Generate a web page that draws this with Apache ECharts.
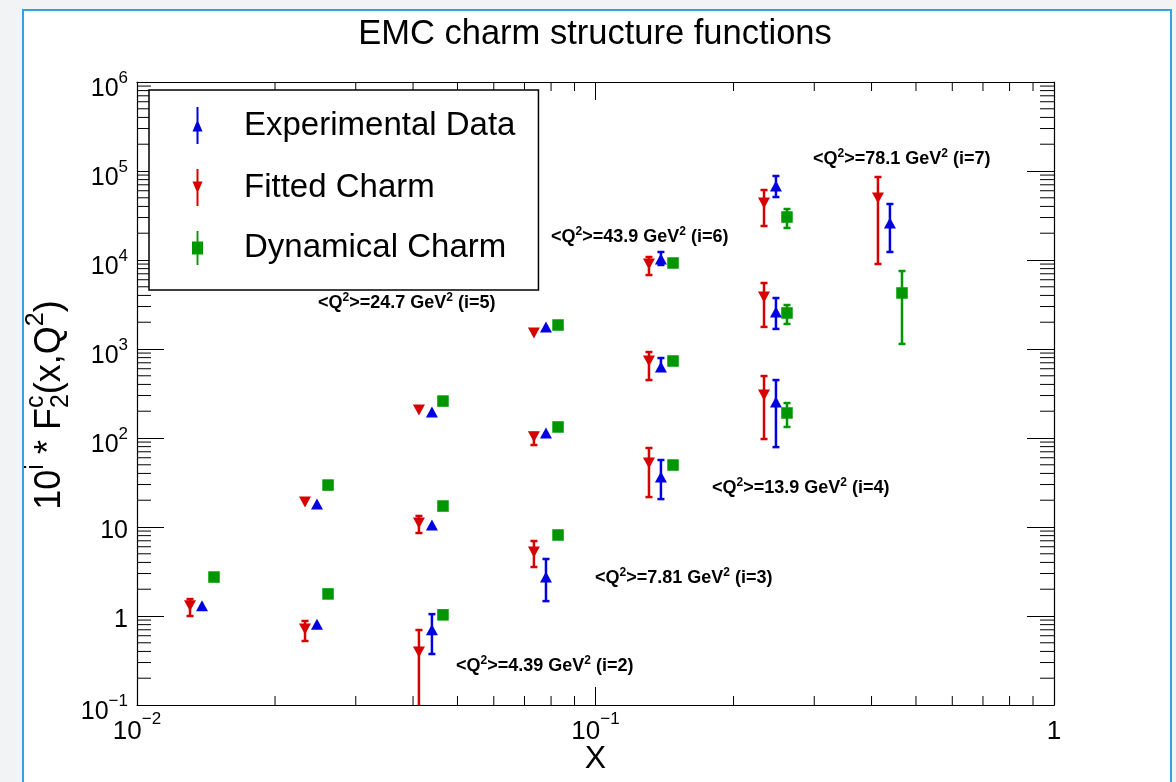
<!DOCTYPE html>
<html><head><meta charset="utf-8">
<script src="https://cdn.jsdelivr.net/npm/echarts@6/dist/echarts.min.js"></script>
<style>
html,body{margin:0;padding:0;background:#f2f3f4;width:1176px;height:782px;overflow:hidden;}
#frame{position:absolute;left:22px;top:9px;width:1146px;height:778px;background:#fff;border-left:2px solid #3aa0da;border-top:2px solid #3aa0da;border-right:2px solid #3aa0da;}
#chart{position:absolute;left:0;top:0;width:1176px;height:782px;}
</style></head><body><div id="frame"></div><div id="chart"></div>
<script>
// ---------------- data ----------------
const seriesNames = ['Experimental Data', 'Fitted Charm', 'Dynamical Charm'];

const xExp = [0.01386, 0.02469, 0.02469, 0.04398, 0.04398, 0.04398, 0.07798, 0.07798, 0.07798, 0.1389, 0.1389, 0.1389, 0.2475, 0.2475, 0.2475, 0.4387];
const yExp = [1.30, 0.81, 18.1, 0.70, 10.5, 196, 2.74, 114, 1770, 36.5, 628, 10260, 254, 2600, 67800, 26000];
const expLo = [null, null, null, 0.374, null, null, 1.47, null, null, 20.6, 581, 8790, 79, 1680, 51000, 12300];
const expHi = [null, null, null, 1.05, null, null, 4.37, null, null, 56.6, 792, 12300, 448, 3740, 87900, 42600];

const xFit = [0.01305, 0.02325, 0.02325, 0.0412, 0.0412, 0.0412, 0.0734, 0.0734, 0.0734, 0.1308, 0.1308, 0.1308, 0.2331, 0.2331, 0.2331, 0.4131];
const yFit = [1.30, 0.714, 19.1, 0.394, 11.1, 206, 5.24, 103, 1513, 52.4, 733, 9020, 304, 3840, 43700, 49700];
const fitLo = [1.0, 0.524, null, 0.03, 8.56, null, 3.55, 83.4, null, 21.7, 448, 6780, 97.4, 1770, 24100, 9020];
const fitHi = [1.55, 0.879, null, 0.696, 13.3, null, 6.96, 114, null, 77.2, 925, 10810, 497, 5515, 61150, 85640];

const xDyn = [0.01472, 0.02610, 0.02610, 0.04649, 0.04649, 0.04649, 0.08285, 0.08285, 0.08285, 0.1476, 0.1476, 0.1476, 0.2616, 0.2616, 0.2616, 0.4661];
const yDyn = [2.74, 1.77, 29.6, 1.03, 17.2, 260, 8.13, 133, 1860, 49.7, 733, 9250, 191, 2540, 30400, 4260];
const dynLo = [null, null, null, null, null, null, null, null, null, null, null, null, 133, 1910, 22900, 1140];
const dynHi = [null, null, null, null, null, null, null, null, null, null, null, null, 247, 3120, 37400, 7520];

const q2Values = ['4.39', '7.81', '13.9', '24.7', '43.9', '78.1'];
const q2Index = [2, 3, 4, 5, 6, 7];

const xTickExp = [-2, -1, 0];
const yTickExp = [-1, 0, 1, 2, 3, 4, 5, 6];
const minorMult = [2, 3, 4, 5, 6, 7, 8, 9];

// ---------------- helpers ----------------
const FONT = 'Liberation Sans';
const C_EXP = '#0000e0', C_FIT = '#d60000', C_DYN = '#009600';

function pts(xs, ys) { return xs.map((x, i) => [x, ys[i]]); }
function errs(xs, lo, hi) {
  const out = [];
  xs.forEach((x, i) => { if (lo[i] != null && hi[i] != null) out.push([x, lo[i], hi[i]]); });
  return out;
}
function errRender(color) {
  return function (params, api) {
    const x = api.value(0);
    const a = api.coord([x, api.value(1)]);
    const b = api.coord([x, api.value(2)]);
    const h = 3.5, st = { stroke: color, lineWidth: 2.5 };
    return { type: 'group', children: [
      { type: 'line', shape: { x1: a[0], y1: a[1], x2: b[0], y2: b[1] }, style: st },
      { type: 'line', shape: { x1: a[0] - h, y1: a[1], x2: a[0] + h, y2: a[1] }, style: st },
      { type: 'line', shape: { x1: b[0] - h, y1: b[1], x2: b[0] + h, y2: b[1] }, style: st }
    ] };
  };
}
const xMinor = [], yMinor = [];
xTickExp.slice(0, -1).forEach(k => minorMult.forEach(m => xMinor.push(m * Math.pow(10, k))));
yTickExp.slice(0, -1).forEach(k => minorMult.forEach(m => yMinor.push(m * Math.pow(10, k))));

function supExp(k) { return k < 0 ? '\u2212' + (-k) : String(k); }
function yFmt(v) {
  const k = Math.round(Math.log10(v));
  if (k === 0) return '{p|1}';
  if (k === 1) return '{p|10}';
  return '{b|10}{s|' + supExp(k) + '}';
}
function xFmt(v) {
  const k = Math.round(Math.log10(v));
  if (k === 0) return '{b|1}';
  return '{b|10}{s|' + supExp(k) + '}';
}
const yRich = {
  p: { fontFamily: FONT, fontSize: 25, color: '#000', lineHeight: 24, padding: [9, 0, 0, 0] },
  b: { fontFamily: FONT, fontSize: 25, color: '#000', lineHeight: 24, padding: [15, 0, 0, 0] },
  s: { fontFamily: FONT, fontSize: 17, color: '#000', lineHeight: 17, padding: [0, 0, 7, 0] }
};
const xRich = {
  b: { fontFamily: FONT, fontSize: 26, color: '#000', lineHeight: 24, padding: [14, 0, 0, 0] },
  s: { fontFamily: FONT, fontSize: 17, color: '#000', lineHeight: 17, padding: [0, 0, 12, 0] }
};

// y-axis title built from pieces (stacked sub/superscript on F)
const ctx = document.createElement('canvas').getContext('2d');
function tw(t, s) { ctx.font = s + 'px "' + FONT + '"'; return ctx.measureText(t).width; }
const M = 36, S = 25;
const titleParts = [
  { t: '10', s: M, dy: 0 }, { t: 'i', s: S, dy: -14 }, { t: ' * F', s: M, dy: 0 },
  { t: 'c', s: S, dy: -14, stack: 1 }, { t: '2', s: S, dy: 11, stack: 2 },
  { t: '(x,Q', s: M, dy: 0 }, { t: '2', s: S, dy: -14 }, { t: ')', s: M, dy: 0 }
];
let cur = 0; const yTitleChildren = []; let stackX = 0, stackW = 0;
titleParts.forEach(p => {
  let x;
  if (p.stack === 1) { stackX = cur; x = cur; stackW = tw(p.t, p.s); }
  else if (p.stack === 2) { x = stackX; stackW = Math.max(stackW, tw(p.t, p.s)); cur = stackX + stackW; }
  else { x = cur; cur += tw(p.t, p.s); }
  yTitleChildren.push({ type: 'text', x: x, y: p.dy, style: { text: p.t, fontFamily: FONT, fontSize: p.s, fill: '#000', align: 'left', verticalAlign: 'middle' } });
});
yTitleChildren.forEach(c => { c.x -= cur / 2; });

// annotation positions (layout, pixels)
const annPos = [[456, 665], [595, 577], [712, 487], [318, 302], [551, 236], [813, 158]];
const annGraphics = q2Values.map((q, j) => ({
  type: 'text', x: annPos[j][0], y: annPos[j][1],
  style: {
    text: '{b|<Q}{s|2}{b|>=' + q + ' GeV}{s|2}{b| (i=' + q2Index[j] + ')}',
    align: 'left', verticalAlign: 'middle',
    rich: {
      b: { fontFamily: FONT, fontSize: 18, fontWeight: 'bold', fill: '#000', lineHeight: 20, verticalAlign: 'bottom' },
      s: { fontFamily: FONT, fontSize: 12, fontWeight: 'bold', fill: '#000', lineHeight: 12, padding: [0, 0, 8, 0], verticalAlign: 'top' }
    }
  }
}));

const axisLineStyle = { color: '#000', width: 1.2 };

const option = {
  animation: false,
  textStyle: { fontFamily: FONT },
  title: {
    text: 'EMC charm structure functions', left: 595, top: 17, textAlign: 'center', padding: 0,
    textStyle: { fontFamily: FONT, fontSize: 34.5, fontWeight: 'normal', color: '#000' }
  },
  grid: { left: 137, right: 122, top: 82, bottom: 77, containLabel: false, outerBoundsMode: 'none' },
  legend: {
    orient: 'vertical', left: 149, top: 90, backgroundColor: '#fff', borderColor: '#000', borderWidth: 1.5,
    padding: [17, 23, 25, 43], itemGap: 25, itemWidth: 11, itemHeight: 37, selectedMode: false,
    textStyle: { fontFamily: FONT, fontSize: 33, color: '#000', padding: [0, 0, 0, 36] },
    data: [
      { name: seriesNames[0], icon: 'path://M4,0 L6,0 L6,37 L4,37 Z M0,24.5 L5,12.5 L10,24.5 Z' },
      { name: seriesNames[1], icon: 'path://M4,0 L6,0 L6,37 L4,37 Z M0,12.5 L10,12.5 L5,24.5 Z' },
      { name: seriesNames[2], icon: 'path://M4,0 L6,0 L6,37 L4,37 Z M-1,11.5 L11,11.5 L11,25.5 L-1,25.5 Z' }
    ]
  },
  xAxis: [
    { type: 'log', logBase: 10, min: 0.01, max: 1, interval: 1, position: 'bottom',
      axisLine: { show: true, lineStyle: axisLineStyle },
      axisTick: { show: true, inside: true, length: 18, lineStyle: { color: '#000', width: 1 } },
      minorTick: { show: false }, splitLine: { show: false },
      axisLabel: { margin: 8, formatter: xFmt, rich: xRich },
      name: 'X', nameLocation: 'middle', nameGap: 38, nameMoveOverlap: false,
      nameTextStyle: { fontFamily: FONT, fontSize: 32, color: '#000', verticalAlign: 'top' } },
    { type: 'log', logBase: 10, min: 0.01, max: 1, interval: 1, position: 'top',
      axisLine: { show: true, lineStyle: axisLineStyle },
      axisTick: { show: true, inside: true, length: 18, lineStyle: { color: '#000', width: 1 } },
      axisLabel: { show: false }, splitLine: { show: false } }
  ],
  yAxis: [
    { type: 'log', logBase: 10, min: 0.1, max: 1e6, interval: 1, position: 'left',
      axisLine: { show: true, lineStyle: axisLineStyle },
      axisTick: { show: true, inside: true, length: 27, lineStyle: { color: '#000', width: 1 } },
      minorTick: { show: false }, splitLine: { show: false },
      axisLabel: { margin: 9, formatter: yFmt, rich: yRich } },
    { type: 'log', logBase: 10, min: 0.1, max: 1e6, interval: 1, position: 'right',
      axisLine: { show: true, lineStyle: axisLineStyle },
      axisTick: { show: true, inside: true, length: 27, lineStyle: { color: '#000', width: 1 } },
      axisLabel: { show: false }, splitLine: { show: false } }
  ],
  graphic: [
    { type: 'group', x: 50, y: 405, rotation: Math.PI / 2, children: yTitleChildren }
  ].concat(annGraphics),
  series: [
    { type: 'custom', name: 'xminor', silent: true, clip: false, z: 1,
      data: xMinor.map(v => [v, 1]),
      renderItem: function (params, api) {
        const cs = params.coordSys; const px = api.coord([api.value(0), 1])[0];
        const b = cs.y + cs.height, t = cs.y;
        return { type: 'group', children: [
          { type: 'line', shape: { x1: px, y1: b, x2: px, y2: b - 9 }, style: { stroke: '#000', lineWidth: 1 } },
          { type: 'line', shape: { x1: px, y1: t, x2: px, y2: t + 9 }, style: { stroke: '#000', lineWidth: 1 } }
        ] };
      } },
    { type: 'custom', name: 'yminor', silent: true, clip: false, z: 1,
      data: yMinor.map(v => [0.1, v]),
      renderItem: function (params, api) {
        const cs = params.coordSys; const py = api.coord([0.1, api.value(1)])[1];
        const l = cs.x, r = cs.x + cs.width;
        return { type: 'group', children: [
          { type: 'line', shape: { x1: l, y1: py, x2: l + 14, y2: py }, style: { stroke: '#000', lineWidth: 1 } },
          { type: 'line', shape: { x1: r, y1: py, x2: r - 14, y2: py }, style: { stroke: '#000', lineWidth: 1 } }
        ] };
      } },
    { type: 'custom', name: seriesNames[1], clip: true, z: 2, silent: true,
      encode: { x: 0, y: [1, 2] }, data: errs(xFit, fitLo, fitHi), renderItem: errRender(C_FIT), itemStyle: { color: C_FIT } },
    { type: 'custom', name: seriesNames[0], clip: true, z: 2, silent: true,
      encode: { x: 0, y: [1, 2] }, data: errs(xExp, expLo, expHi), renderItem: errRender(C_EXP), itemStyle: { color: C_EXP } },
    { type: 'custom', name: seriesNames[2], clip: true, z: 2, silent: true,
      encode: { x: 0, y: [1, 2] }, data: errs(xDyn, dynLo, dynHi), renderItem: errRender(C_DYN), itemStyle: { color: C_DYN } },
    { type: 'scatter', name: seriesNames[0], z: 3, symbol: 'triangle', symbolSize: [12, 11],
      itemStyle: { color: C_EXP, opacity: 1 }, data: pts(xExp, yExp) },
    { type: 'scatter', name: seriesNames[1], z: 3, symbol: 'triangle', symbolRotate: 180, symbolSize: [12, 11],
      itemStyle: { color: C_FIT, opacity: 1 }, data: pts(xFit, yFit) },
    { type: 'scatter', name: seriesNames[2], z: 3, symbol: 'rect', symbolSize: 11.5,
      itemStyle: { color: C_DYN, opacity: 1 }, data: pts(xDyn, yDyn) }
  ]
};
const chart = echarts.init(document.getElementById('chart'), null, { renderer: 'canvas' });
chart.setOption(option);
</script></body></html>
